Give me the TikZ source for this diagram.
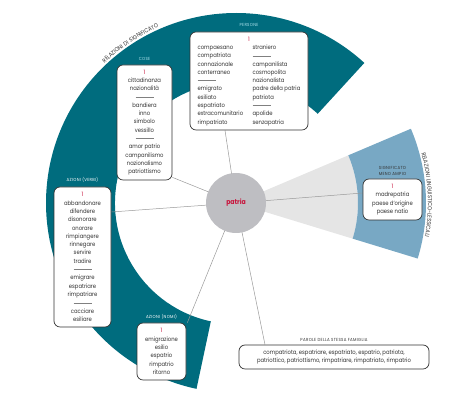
\documentclass[tikz,border=0pt]{standalone}
\usepackage{fontspec}
\setmainfont{Poppins}[FakeStretch=0.88]
\newfontfamily\spacedfont{Poppins}[FakeStretch=0.9, LetterSpace=7]
\usetikzlibrary{positioning,calc,decorations.text}
\definecolor{ringteal}{RGB}{0,108,126}
\definecolor{ringblue}{RGB}{120,168,196}
\definecolor{wedgegray}{RGB}{229,229,229}
\definecolor{coregray}{RGB}{190,190,194}
\definecolor{numred}{RGB}{200,20,60}
\definecolor{inkgray}{RGB}{50,50,50}
\definecolor{tagcyan}{RGB}{175,228,238}
\pgfdeclarelayer{bg}
\pgfsetlayers{bg,main}
\newcommand{\uno}{\textcolor{numred}{1}}
\newcommand{\trat}{\textcolor{gray}{\rule[1.8pt]{18pt}{0.4pt}}}
\newcommand{\boxfont}{\fontsize{6}{8.3}\selectfont}
\newcommand{\tagfont}{\spacedfont\fontsize{4.4}{5.6}\selectfont}
\newcommand{\arcfont}{\spacedfont\fontsize{5.8}{6}\selectfont}

\begin{document}
\begin{tikzpicture}[x=1pt, y=1pt,
    word/.style={rectangle, rounded corners=6pt, draw=inkgray, line width=0.7pt, fill=white, text=inkgray, font=\boxfont, align=center, inner sep=2pt},
    tag/.style={font=\tagfont, text=tagcyan, inner sep=0pt, align=center},
    link/.style={draw=gray!80, line width=0.5pt}
]
    \useasboundingbox (0,0) rectangle (474,419);
    \coordinate (c) at (236,216);

    % rings
    \begin{pgfonlayer}{bg}
    \fill[ringteal] ($(c)+(47.5:190)$) arc[start angle=47.5, end angle=258, radius=190]
        -- ($(c)+(258:121)$) arc[start angle=258, end angle=47.5, radius=121] -- cycle;
    \fill[wedgegray] (c) -- ($(c)+(-17:122)$) arc[start angle=-17, end angle=23, radius=122] -- cycle;
    \fill[ringblue] ($(c)+(-17:190)$) arc[start angle=-17, end angle=23, radius=190]
        -- ($(c)+(23:122)$) arc[start angle=23, end angle=-17, radius=122] -- cycle;
    \end{pgfonlayer}

    \path[decorate, decoration={text along path, text align=center,
        text={|\arcfont\color{inkgray}|RELAZIONI DI SIGNIFICATO}}]
        ($(c)+(150:192)$) arc[start angle=150, end angle=97, radius=192];
    \path[decorate, decoration={text along path, text align=center,
        text={|\arcfont\color{inkgray}|RELAZIONI LINGUISTICO-LESSICALI}}]
        ($(c)+(28:192)$) arc[start angle=28, end angle=-23, radius=192];

    \node[circle, fill=coregray, minimum size=60pt, text=numred, font=\fontsize{7}{8}\selectfont\bfseries] (patria) at (c) {patria};

    \node[word, minimum width=118pt, minimum height=98pt] (persone) at (249,338) {%
        \begin{tabular}{@{}p{55pt}@{}l@{}}
        \multicolumn{2}{c}{\uno}\\
        compaesano & straniero\\
        compatriota & \trat\\
        connazionale & campanilista\\
        conterraneo & cosmopolita\\
        \trat & nazionalista\\
        emigrato & padre della patria\\
        esiliato & patriota\\
        espatriato & \trat\\
        extracomunitario & apolide\\
        rimpatriato & senzapatria
        \end{tabular}};
    \node[word, minimum width=55pt, minimum height=115pt] (cose) at (144.5,296.5) {\uno\\ cittadinanza\\ nazionalità\\ \trat\\ bandiera\\ inno\\ simbolo\\ vessillo\\ \trat\\ amor patrio\\ campanilismo\\ nazionalismo\\ patriottismo};
    \node[word, minimum width=57pt, minimum height=140pt] (verbi) at (82.5,162) {\uno\\ abbandonare\\ difendere\\ disonorare\\ onorare\\ rimpiangere\\ rinnegare\\ servire\\ tradire\\ \trat\\ emigrare\\ espatriare\\ rimpatriare\\ \trat\\ cacciare\\ esiliare};
    \node[word, minimum width=49pt, minimum height=57pt] (nomi) at (161.5,67.5) {\uno\\ emigrazione\\ esilio\\ espatrio\\ rimpatrio\\ ritorno};
    \node[word, minimum width=59pt, minimum height=41pt] (signif) at (392.5,219.5) {\uno\\ madrepatria\\ paese d'origine\\ paese natio};
    \node[word, minimum width=190pt, minimum height=24pt] (parole) at (334,62) {compatriota, espatriare, espatriato, espatrio, patriota,\\ patriottico, patriottismo, rimpatriare, rimpatriato, rimpatrio};

    \node[tag, above=4.5pt of persone] (personetag) {PERSONE};
    \node[tag, above=3.5pt of cose] (cosetag) {COSE};
    \node[tag, text=white, above=4.5pt of verbi] (verbitag) {AZIONI (VERBI)};
    \node[tag, text=white, above=3.5pt of nomi] (nomitag) {AZIONI (NOMI)};
    \node[tag, text=inkgray, above=3pt of signif] (signiftag) {SIGNIFICATO\\ MENO AMPIO};
    \node[tag, text=inkgray, above=3pt of parole] (paroletag) {PAROLE DELLA STESSA FAMIGLIA};

    % connectors
    \begin{pgfonlayer}{bg}
    \draw[link] (patria.center) -- ([xshift=-24pt]persone.south);
    \draw[link] (patria.center) -- ([yshift=3pt]cose.south east);
    \draw[link] (patria.center) -- ([yshift=45pt]verbi.east);
    \draw[link] (patria.center) -- ([xshift=1pt]nomi.north east);
    \draw[link] (patria.center) -- ([xshift=-69pt]parole.north);
    \draw[link] (patria.center) -- ([yshift=6.5pt]signif.west);
    \end{pgfonlayer}
\end{tikzpicture}
\end{document}
